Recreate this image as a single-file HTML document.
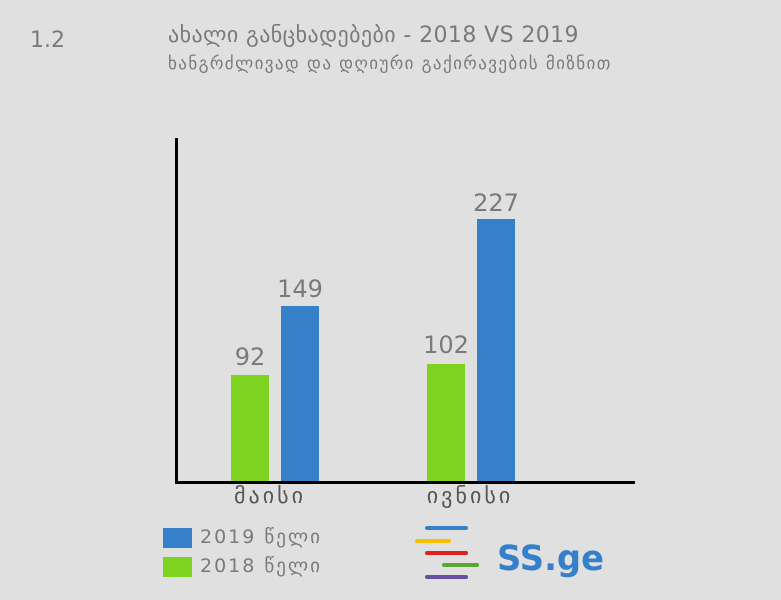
<!DOCTYPE html>
<html><head><meta charset="utf-8"><style>
body{margin:0;background:#e0e0e0;}
.w{position:relative;width:781px;height:600px;background:#e0e0e0;font-family:"DejaVu Sans","Liberation Sans",sans-serif;color:#7a7a7a;overflow:hidden}
.a{position:absolute;white-space:nowrap}
</style></head><body><div class="w">
<div class="a" style="left:30px;top:28px;font-size:22px">1.2</div>
<div class="a" style="left:168px;top:23px;font-size:22px;letter-spacing:0.4px">ახალი განცხადებები - 2018 VS 2019</div>
<div class="a" style="left:168px;top:54px;font-size:17px;letter-spacing:1.4px">ხანგრძლივად და დღიური გაქირავების მიზნით</div>
<div class="a" style="left:175px;top:138px;width:3px;height:346px;background:#000"></div>
<div class="a" style="left:175px;top:481px;width:460px;height:3px;background:#000"></div>
<div class="a" style="left:231px;top:375px;width:38px;height:106px;background:#7ed321"></div>
<div class="a" style="left:281px;top:306px;width:38px;height:175px;background:#3580c8"></div>
<div class="a" style="left:427px;top:364px;width:38px;height:117px;background:#7ed321"></div>
<div class="a" style="left:477px;top:219px;width:38px;height:262px;background:#3580c8"></div>
<div class="a" style="left:200px;top:343px;width:100px;text-align:center;font-size:24px">92</div>
<div class="a" style="left:250px;top:275px;width:100px;text-align:center;font-size:24px">149</div>
<div class="a" style="left:396px;top:331px;width:100px;text-align:center;font-size:24px">102</div>
<div class="a" style="left:446px;top:189px;width:100px;text-align:center;font-size:24px">227</div>
<div class="a" style="left:190px;top:484px;width:160px;text-align:center;font-size:22px;letter-spacing:3px;color:#555">მაისი</div>
<div class="a" style="left:390px;top:484px;width:160px;text-align:center;font-size:22px;letter-spacing:3px;color:#555">ივნისი</div>
<div class="a" style="left:163px;top:528px;width:29px;height:20px;background:#3580c8"></div>
<div class="a" style="left:163px;top:557px;width:29px;height:20px;background:#7ed321"></div>
<div class="a" style="left:200px;top:526px;font-size:19px;letter-spacing:2px">2019 წელი</div>
<div class="a" style="left:200px;top:555px;font-size:19px;letter-spacing:2px">2018 წელი</div>
<svg class="a" style="left:0;top:0" width="781" height="600">
<g stroke-width="4" stroke-linecap="round">
<line x1="427" y1="528" x2="466" y2="528" stroke="#3580c8"/>
<line x1="417" y1="541" x2="449" y2="541" stroke="#f5c000"/>
<line x1="427" y1="553" x2="466" y2="553" stroke="#e02020"/>
<line x1="444" y1="565" x2="477" y2="565" stroke="#5aa832"/>
<line x1="427" y1="577" x2="466" y2="577" stroke="#6a4fa0"/>
</g>
<text x="497" y="570" font-family="DejaVu Sans,Liberation Sans,sans-serif" font-size="35" font-weight="bold" fill="#3580c8" textLength="107" lengthAdjust="spacingAndGlyphs">SS.ge</text>
</svg>
</div></body></html>
